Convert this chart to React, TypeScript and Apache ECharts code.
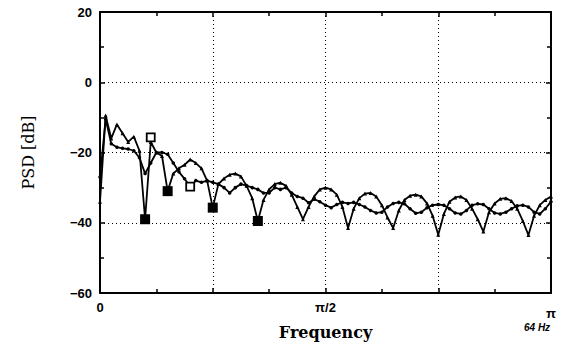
import React, { useEffect, useRef } from "react";
import * as echarts from "echarts";

// Frequency bins: index k spans 0..80 over [0, π]
const tickLabels: Record<number, string> = { 0: "0", 40: "π/2", 80: "{pi|π}" };

// Series A (deep-notched spectrum), dB
const seriesA = [
  -34, -9.5, -16, -12, -14.5, -17, -15.5, -19.5, -39, -17,
  -20, -21, -31, -26, -24.5, -23.5, -22, -23, -24.5, -28,
  -35.7, -29, -27.4, -26.3, -26, -26.8, -29.5, -33, -39.5, -33.5,
  -30.5, -29, -28.6, -29.5, -32, -35.5, -39, -35.5, -32.5, -30.5,
  -30, -30.5, -32, -35.5, -41.5, -36, -33, -31.7, -31.5, -32.5,
  -35, -38.5, -41.5, -36.5, -33.5, -32.3, -32, -32.5, -34.5, -38,
  -43.4, -37.5, -34, -32.8, -32.5, -33.5, -36, -39, -42.5, -37,
  -34.5, -33.2, -33, -33.8, -36, -39.5, -43.5, -38, -35, -33.5,
  -32.5,
];

// Series B (smoother spectrum), dB
const seriesB = [
  -27, -10.5, -17.5, -18.5, -18.8, -19, -19.5, -21.5, -26, -23,
  -20, -20, -20.5, -23, -25.5, -27.5, -29.7, -28, -28.5, -28,
  -28.5, -29, -30, -31.5, -30, -29, -29.4, -30, -30.5, -31.5,
  -31.5, -30, -30.5, -30, -31.5, -32.5, -33, -34.3, -33.3, -34,
  -35, -35.7, -34.8, -34.2, -34.5, -34.2, -34.8, -35.5, -36.5, -37.2,
  -37, -35.5, -34.5, -34.2, -34.6, -36, -37.3, -37, -35.7, -35,
  -34.8, -35, -36, -37.2, -37.5, -36.5, -35, -34.6, -34.8, -36,
  -37.2, -37.5, -37, -36, -35.2, -35, -35.5, -37, -37.5, -36,
  -34,
];

// Marked notches: [bin, dB]
const filledMarks: [number, number][] = [
  [8, -39], [12, -31], [20, -35.7], [28, -39.5],
];
const openMarks: [number, number][] = [
  [9, -15.7], [16, -29.7],
];

const yTicks = [-60, -40, -20, 0, 20];

export default function App() {
  const ref = useRef<HTMLDivElement>(null);
  useEffect(() => {
    if (!ref.current) return;
    const chart = echarts.init(ref.current, undefined, { renderer: "svg" });
    const labelFont = "Liberation Sans";
    const tick = { show: true, inside: true, length: 5, lineStyle: { color: "#000", width: 1.5 } };
    const minor = { show: true, splitNumber: 2, length: 4, lineStyle: { color: "#000", width: 1.5 } };
    const line = { show: true, onZero: false, lineStyle: { color: "#000", width: 2 } };
    const dotted = { show: true, lineStyle: { color: "#000", type: [1, 3], width: 1 } };
    chart.setOption({
      animation: false,
      backgroundColor: "#fff",
      grid: { left: 100, right: 15, top: 12, bottom: 56 },
      xAxis: [
        {
          type: "value",
          min: 0, max: 80, interval: 20,
          axisLine: line, axisTick: tick, minorTick: minor,
          position: "bottom",
          name: "Frequency",
          nameLocation: "middle",
          nameGap: 29,
          nameTextStyle: { fontFamily: "DejaVu Serif", fontSize: 16, fontWeight: "bold", color: "#000" },
          axisLabel: {
            margin: 8,
            color: "#000",
            fontFamily: labelFont,
            fontWeight: "bold",
            fontSize: 13,
            formatter: (v: number) => tickLabels[v] ?? "",
            rich: { pi: { fontFamily: labelFont, fontWeight: "bold", fontSize: 13, padding: [6, 0, 0, 0], color: "#000" } },
          },
          splitLine: dotted,
        },
        {
          type: "value",
          min: 0, max: 80, interval: 20,
          axisLine: line, axisTick: tick, minorTick: minor,
          position: "top",
          axisLabel: { show: false },
          splitLine: { show: false },
        },
      ],
      yAxis: [
        {
          type: "value",
          min: yTicks[0], max: yTicks[yTicks.length - 1], interval: 20,
          axisLine: line, axisTick: tick, minorTick: minor,
          position: "left",
          name: "PSD [dB]",
          nameLocation: "middle",
          nameGap: 64,
          nameRotate: 90,
          nameTextStyle: { fontFamily: "DejaVu Serif", fontSize: 16, color: "#000" },
          axisLabel: {
            color: "#000", fontFamily: labelFont, fontWeight: "bold", fontSize: 13, margin: 8,
            formatter: (v: number) => String(v).replace("-", "\u2212"),
          },
          splitLine: dotted,
        },
        {
          type: "value",
          min: yTicks[0], max: yTicks[yTicks.length - 1], interval: 20,
          axisLine: line, axisTick: tick, minorTick: minor,
          position: "right",
          axisLabel: { show: false },
          splitLine: { show: false },
        },
      ],
      graphic: [
        {
          type: "text",
          left: 524,
          top: 322,
          style: { text: "64 Hz", font: "italic bold 10px Liberation Sans", fill: "#000" },
        },
      ],
      series: [
        {
          type: "line",
          data: seriesA.map((v, k) => [k, v]),
          symbol: "triangle",
          symbolSize: 4,
          itemStyle: { color: "#000" },
          lineStyle: { color: "#000", width: 1.8 },
          z: 3,
        },
        {
          type: "line",
          data: seriesB.map((v, k) => [k, v]),
          symbol: "circle",
          symbolSize: 3.5,
          itemStyle: { color: "#000" },
          lineStyle: { color: "#000", width: 1.8 },
          z: 3,
        },
        {
          type: "scatter",
          data: filledMarks,
          symbol: "rect",
          symbolSize: 10,
          itemStyle: { color: "#000", opacity: 1 },
          z: 5,
        },
        {
          type: "scatter",
          data: openMarks,
          symbol: "rect",
          symbolSize: 8,
          itemStyle: { color: "#fff", borderColor: "#000", borderWidth: 1.8, opacity: 1 },
          z: 5,
        },
      ],
    });
    return () => chart.dispose();
  }, []);
  return <div ref={ref} style={{ width: 566, height: 349, position: "absolute", left: 0, top: 0 }} />;
}
